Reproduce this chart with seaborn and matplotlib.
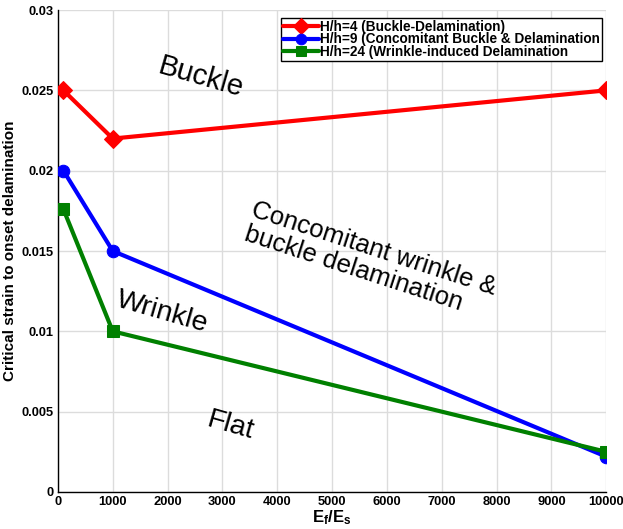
import matplotlib
matplotlib.use("Agg")
import matplotlib.pyplot as plt
import seaborn as sns
import pandas as pd

# Stiffness ratio and critical strain for the three thickness ratios
stiffness_ratio = [100, 1000, 10000]
strain_h4 = [0.025, 0.022, 0.025]
strain_h9 = [0.020, 0.015, 0.0022]
strain_h24 = [0.0176, 0.010, 0.0025]

series_labels = [
    "H/h=4 (Buckle-Delamination)",
    "H/h=9 (Concomitant Buckle & Delamination",
    "H/h=24 (Wrinkle-induced Delamination",
]
series_colors = ["#ff0000", "#0000ff", "#008000"]
series_markers = ["D", "o", "s"]
series_msizes = [9, 9, 8]

x_ticks = list(range(0, 10001, 1000))
y_ticks = [0, 0.005, 0.01, 0.015, 0.02, 0.025, 0.03]
y_ticklabels = ["0", "0.005", "0.01", "0.015", "0.02", "0.025", "0.03"]

sns.set_style("white")
plt.rcParams["font.family"] = ["Liberation Sans", "DejaVu Sans"]
plt.rcParams["mathtext.fontset"] = "custom"
plt.rcParams["mathtext.rm"] = "Liberation Sans"
plt.rcParams["mathtext.bf"] = "Liberation Sans:bold"
plt.rcParams["mathtext.it"] = "Liberation Sans:italic"
plt.rcParams["text.color"] = "black"
plt.rcParams["axes.labelcolor"] = "black"
plt.rcParams["xtick.color"] = "black"
plt.rcParams["ytick.color"] = "black"

frames = []
for lab, vals in zip(series_labels, [strain_h4, strain_h9, strain_h24]):
    frames.append(pd.DataFrame({"ratio": stiffness_ratio, "strain": vals, "case": lab}))
df = pd.concat(frames, ignore_index=True)

fig = plt.figure(figsize=(6.23, 5.29), dpi=100)
ax = fig.add_axes([0.093, 0.070, 0.880, 0.911])

for lab, col, mk, ms in zip(series_labels, series_colors, series_markers, series_msizes):
    sub = df[df["case"] == lab]
    sns.lineplot(data=sub, x="ratio", y="strain", ax=ax, color=col, marker=mk,
                 markersize=ms, markeredgecolor=col, linewidth=3, label=lab,
                 zorder=3)

ax.set_xlim(0, 10000)
ax.set_ylim(0, 0.03)
ax.set_xticks(x_ticks)
ax.set_xticklabels([str(t) for t in x_ticks])
ax.set_yticks(y_ticks)
ax.set_yticklabels(y_ticklabels)
ax.grid(True, color="#dcdcdc", linewidth=1.0, zorder=0)
ax.set_axisbelow(True)
for s in ["top", "right"]:
    ax.spines[s].set_visible(False)
for s in ["left", "bottom"]:
    ax.spines[s].set_color("black")
    ax.spines[s].set_linewidth(1.0)
ax.tick_params(direction="in", length=4, width=1, colors="black", labelsize=9.3,
               pad=3)
for t in ax.get_xticklabels() + ax.get_yticklabels():
    t.set_fontweight("bold")

ax.set_xlabel(r"$\mathbf{E_f/E_s}$", fontsize=12, labelpad=0)
ax.set_ylabel("Critical strain to onset delamination", fontsize=11,
              fontweight="bold", labelpad=3)

leg = ax.legend(loc="upper right", bbox_to_anchor=(0.997, 0.99), frameon=True,
                fancybox=False, edgecolor="black", framealpha=1,
                prop={"weight": "bold", "size": 9.8}, handlelength=2.6,
                borderpad=0.15, labelspacing=-0.1, handletextpad=0.1,
                borderaxespad=0.2, markerscale=0.85)
leg.get_frame().set_linewidth(1.0)

# Regime labels
ax.text(2600, 0.0258, "Buckle", fontsize=21, rotation=-16,
        ha="center", va="center")
ax.text(5700, 0.0144, "Concomitant wrinkle &\nbuckle delamination",
        fontsize=18.5, rotation=-18, ha="center", va="center",
        multialignment="left", linespacing=1.05)
ax.text(1900, 0.0112, "Wrinkle", fontsize=20.5, rotation=-16,
        ha="center", va="center")
ax.text(3150, 0.0041, "Flat", fontsize=20.5, rotation=-16,
        ha="center", va="center")

fig.savefig("out.png", dpi=100)
